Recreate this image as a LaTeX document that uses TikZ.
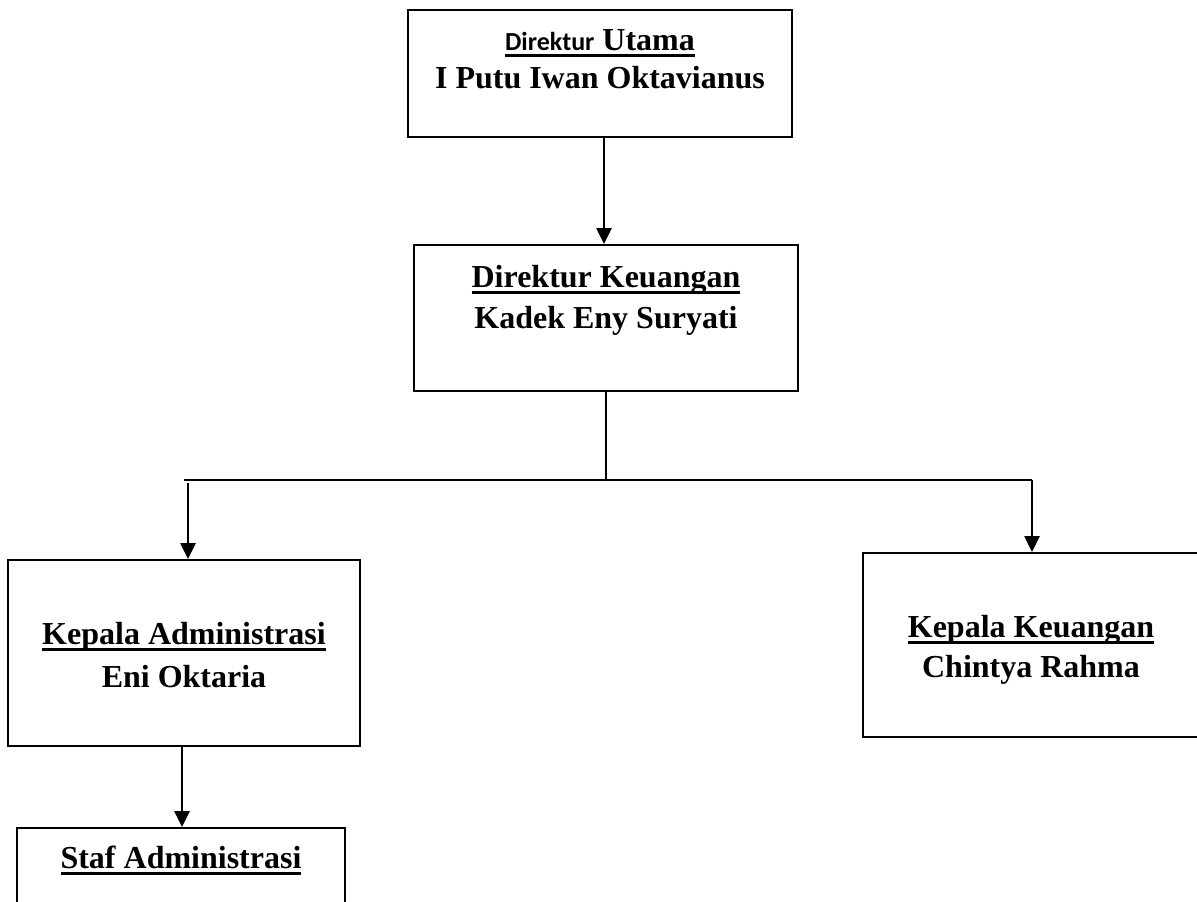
\documentclass[tikz,border=0pt]{standalone}
\usepackage{fontspec}
\setmainfont{Liberation Serif}
\newfontfamily\calfont{Carlito}
\usetikzlibrary{arrows.meta}
\newcommand{\ulbox}[1]{\setbox0\hbox{#1}\rlap{\rule[-6.5pt]{\wd0}{3pt}}\box0}
\tikzset{
  orgbox/.style={draw=black, line width=2pt, fill=none, inner sep=0pt},
  lbl/.style={anchor=base, inner sep=0pt, font=\fontsize{32}{36}\selectfont\bfseries},
  conn/.style={line width=2.6pt},
  arr/.style={conn, -{Triangle[width=15pt,length=16pt]}}
}
\begin{document}
\begin{tikzpicture}[x=1pt,y=-1pt]
\useasboundingbox (0,0) rectangle (1197,902);
\clip (0,0) rectangle (1197,902);
% boxes
\node[orgbox, minimum width=384pt, minimum height=127pt] (du) at (600,73.5) {};
\node[orgbox, minimum width=384pt, minimum height=146pt] (dk) at (606,318) {};
\node[orgbox, minimum width=352pt, minimum height=186pt] (ka) at (184,653) {};
\node[orgbox, minimum width=340pt, minimum height=184pt] (kk) at (1033,645) {};
\node[orgbox, minimum width=328pt, minimum height=90pt] (sa) at (181,873) {};
% texts
\node[lbl] (du1) at (600,50) {\ulbox{{\calfont\fontsize{26}{30}\selectfont\bfseries Direktur} Utama}};
\node[lbl] (du2) at (600,88) {I Putu Iwan Oktavianus};
\node[lbl] (dk1) at (606,287) {\ulbox{Direktur Keuangan}};
\node[lbl] (dk2) at (606,328) {Kadek Eny Suryati};
\node[lbl] (ka1) at (184,644) {\ulbox{Kepala Administrasi}};
\node[lbl] (ka2) at (184,687) {Eni Oktaria};
\node[lbl] (kk1) at (1031,637) {\ulbox{Kepala Keuangan}};
\node[lbl] (kk2) at (1031,677) {Chintya Rahma};
\node[lbl] (sa1) at (181,868) {\ulbox{Staf Administrasi}};
% connectors
\coordinate (j) at (606,480);
\coordinate (jl) at (184,480);
\coordinate (jr) at (1032,480);
\draw[arr] (du.south -| 604,0) -- (dk.north -| 604,0);
\draw[conn] (dk.south -| j) -- (j);
\draw[conn] (jl) -- (jr);
\draw[arr] ([xshift=4pt,yshift=-3pt]jl) -- (ka.north -| 188,0);
\draw[arr] (jr) -- (kk.north -| jr);
\draw[arr] (ka.south -| 182,0) -- (sa.north -| 182,0);
\end{tikzpicture}
\end{document}
